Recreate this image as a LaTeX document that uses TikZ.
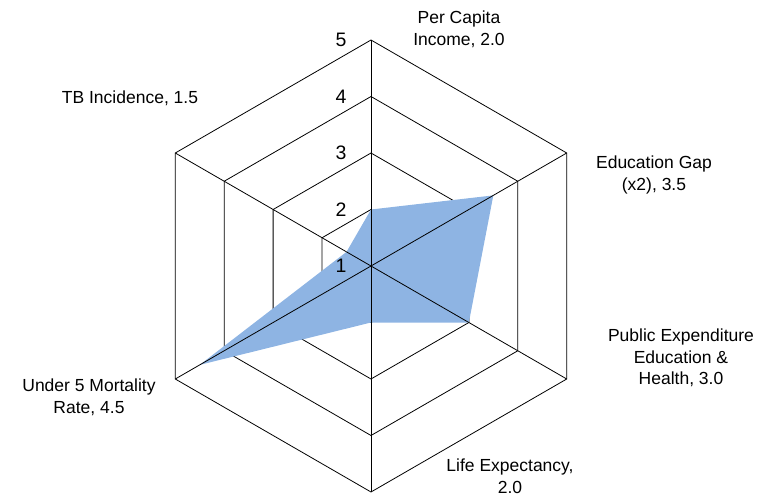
\documentclass[tikz,border=0pt]{standalone}
\usepackage{fontspec}
\setmainfont{Liberation Sans}
\usetikzlibrary{positioning}

\definecolor{datablue}{HTML}{8EB4E3}

\begin{document}
\begin{tikzpicture}[
      x = 1pt, y = 1pt, % one unit per pixel
      grid/.style = {draw = black, line width = 0.8pt}, % web lines
      catlabel/.style = {align = center, font = \fontsize{17.5}{21.7}\selectfont},
      levlabel/.style = {font = \fontsize{19.5}{22}\selectfont}
      ]

      \useasboundingbox (-371,-230) rectangle (400,266);
      \def\unit{56.5} % radius of one step

      % data values, scale starts at 1 in the centre
      \coordinate (pc) at (90:{(2.0-1)*\unit});
      \coordinate (eg) at (30:{(3.5-1)*\unit});
      \coordinate (pe) at (-30:{(3.0-1)*\unit});
      \coordinate (le) at (-90:{(2.0-1)*\unit});
      \coordinate (um) at (210:{(4.5-1)*\unit});
      \coordinate (tb) at (150:{(1.5-1)*\unit});

      % hexagons
      \foreach \lev in {2,...,5} {
        \pgfmathsetmacro{\rr}{(\lev-1)*\unit}
        \draw[grid] (90:\rr) -- (30:\rr) -- (-30:\rr) -- (-90:\rr)
          -- (210:\rr) -- (150:\rr) -- cycle;
      }

      % data area covers the hexagons
      \fill[datablue] (pc) -- (eg) -- (pe) -- (le) -- (um) -- (tb) -- cycle;

      % spokes
      \coordinate (o) at (0,0);
      \foreach \ang in {90,30,-30,-90,210,150}
        \draw[grid] (o) -- (\ang:{4*\unit});

      % level numbers
      \foreach \lev in {1,...,5}
        \node[levlabel] (lev\lev) at (-30,{(\lev-1)*\unit}) {\lev};

      % category labels
      \node[catlabel] (income) at (88,237) {Per Capita\\Income, 2.0};
      \node[catlabel] (edugap) at (283,91) {Education Gap\\(x2), 3.5};
      \node[catlabel] (pubexp) at (310,-92) {Public Expenditure\\Education \&\\Health, 3.0};
      \node[catlabel] (lifeexp) at (139,-210) {Life Expectancy,\\2.0};
      \node[catlabel] (mortality) at (-282,-131) {Under 5 Mortality\\Rate, 4.5};
      \node[catlabel] (tbinc) at (-241,168) {TB Incidence, 1.5};

    \end{tikzpicture}
\end{document}
